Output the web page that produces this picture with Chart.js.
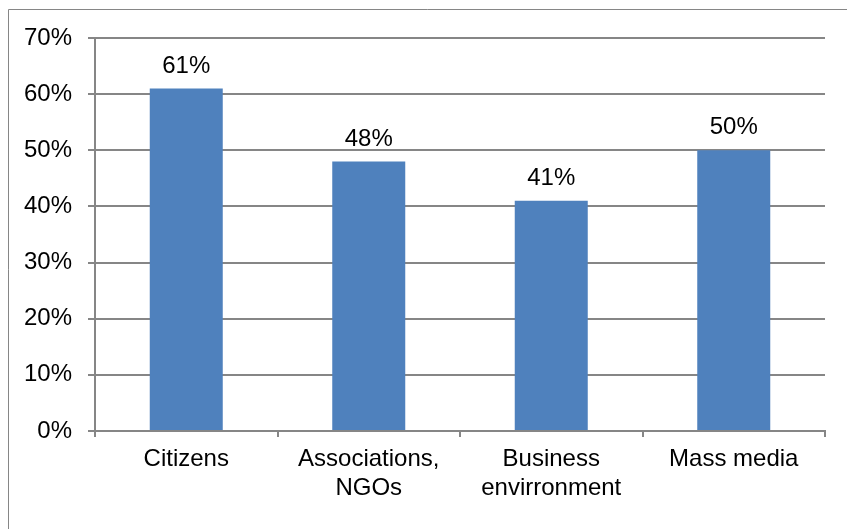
<!DOCTYPE html>
<html>
<head>
<meta charset="utf-8">
<script src="https://cdn.jsdelivr.net/npm/chart.js@4/dist/chart.umd.min.js"></script>
<style>
  html, body { margin: 0; padding: 0; background: #fff; }
  #wrap { width: 847px; height: 529px; position: relative; }
</style>
</head>
<body>
<div id="wrap"><canvas id="chart"></canvas></div>
<script>
var categories = [['Citizens'], ['Associations,', 'NGOs'], ['Business', 'envirronment'], ['Mass media']];
var shares = [61, 48, 41, 50];
var yTicks = [0, 10, 20, 30, 40, 50, 60, 70];

var gridGrey = '#868686';
var font = { family: '"Liberation Sans", Arial, sans-serif', size: 24 };

// outer frame (only top and left edges show in the picture)
var framePlugin = {
  id: 'frame',
  beforeDraw: function (chart) {
    var ctx = chart.ctx;
    ctx.save();
    ctx.strokeStyle = gridGrey;
    ctx.lineWidth = 1;
    ctx.beginPath();
    ctx.moveTo(8.5, chart.height);
    ctx.lineTo(8.5, 9.5);
    ctx.lineTo(chart.width, 9.5);
    ctx.stroke();
    ctx.restore();
  }
};

// value labels above bars
var valueLabels = {
  id: 'valueLabels',
  afterDatasetsDraw: function (chart) {
    var ctx = chart.ctx;
    var meta = chart.getDatasetMeta(0);
    ctx.save();
    ctx.font = font.size + 'px ' + font.family;
    ctx.fillStyle = '#000';
    ctx.textAlign = 'center';
    ctx.textBaseline = 'alphabetic';
    meta.data.forEach(function (bar, i) {
      ctx.fillText(shares[i] + '%', bar.x, bar.y - 16);
    });
    ctx.restore();
  }
};

new Chart(document.getElementById('chart'), {
  type: 'bar',
  data: {
    labels: categories,
    datasets: [{
      data: shares,
      backgroundColor: '#4F81BD',
      barPercentage: 0.4,
      categoryPercentage: 1
    }]
  },
  options: {
    responsive: true,
    maintainAspectRatio: false,
    animation: false,
    layout: { padding: { top: 38, right: 22, left: 0, bottom: 0 } },
    plugins: {
      legend: { display: false },
      tooltip: { enabled: false }
    },
    scales: {
      x: {
        grid: {
          drawOnChartArea: false,
          color: gridGrey,
          lineWidth: 2,
          tickLength: 6,
          tickColor: gridGrey
        },
        border: { color: gridGrey, width: 2 },
        ticks: {
          color: '#000',
          font: { family: font.family, size: font.size, lineHeight: 1.2 },
          padding: 8,
          maxRotation: 0,
          autoSkip: false
        },
        afterFit: function (scale) { scale.height = 98; }
      },
      y: {
        min: 0,
        max: 70,
        afterBuildTicks: function (scale) {
          scale.ticks = yTicks.map(function (v) { return { value: v }; });
        },
        grid: {
          color: gridGrey,
          lineWidth: 2,
          tickLength: 7,
          tickColor: gridGrey
        },
        border: { color: gridGrey, width: 2 },
        ticks: {
          color: '#000',
          font: font,
          padding: 16,
          callback: function (v) { return v + '%'; }
        },
        afterFit: function (scale) { scale.width = 95; }
      }
    }
  },
  plugins: [framePlugin, valueLabels]
});
</script>
</body>
</html>
